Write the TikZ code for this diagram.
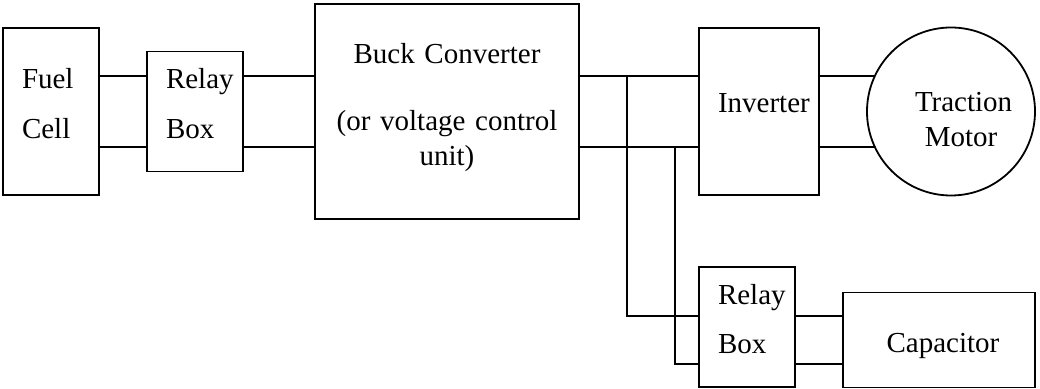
\documentclass[tikz,border=0pt]{standalone}
\usepackage{fontspec}
\setmainfont{Liberation Serif}
\usetikzlibrary{positioning, calc}
\hyphenpenalty=10000

\begin{document}
\begin{tikzpicture}[
            font=\fontsize{14.5}{17.5}\selectfont,
            node distance=24pt,
            box/.style={draw, line width=0.9pt, outer sep=0pt, align=left, inner xsep=9.5pt, inner ysep=0pt, text height=10pt},
            motorcircle/.style={draw, circle, line width=0.9pt, outer sep=0pt, minimum size=84pt, align=center, text width=56pt, text height=10pt, text depth=9.5pt},
            wire/.style={line width=0.9pt}
        ]
            \useasboundingbox (-25.5pt,-138.75pt) rectangle (494.5pt,55.75pt);

            \node[box, text width=29pt, minimum height=83.5pt, text depth=32.5pt] (fuel) at (0,0) {Fuel\\[7.5pt]Cell};
            \node[box, text width=29pt, minimum height=60pt, text depth=33pt, right=24pt of fuel] (relay1) {Relay\\[7.5pt]Box};
            \node[box, align=center, text width=113pt, minimum height=107.5pt, text depth=57.5pt, right=36pt of relay1] (buck) {Buck Converter\\[16pt](or voltage control\\unit)};
            \node[box, text width=41pt, minimum height=83.5pt, text depth=8.5pt, right=60pt of buck] (inv) {Inverter};
            \node[motorcircle, right=24pt of inv] (motor) {\hspace*{10pt}Traction\\\hspace*{10pt}Motor};

            \node[box, text width=29pt, minimum height=60pt, text depth=32pt, below right=36pt and 0pt of inv.south west] (relay2) {Relay\\[7pt]Box};
            \node[box, align=center, text width=77pt, minimum height=47.5pt, text height=13pt, text depth=0pt, right=24pt of relay2, yshift=-6.5pt] (cap) {\hspace*{4pt}Capacitor};

            \coordinate (hi) at (0,17.75pt);
            \coordinate (lo) at (0,-17.75pt);
            \coordinate (tapA) at ($(buck.east)+(24pt,0)$);
            \coordinate (tapB) at ($(buck.east)+(48pt,0)$);
            \coordinate (chi) at ($(cap.west)+(0,12pt)$);
            \coordinate (clo) at ($(cap.west)+(0,-12pt)$);

            \draw[wire] (fuel.east |- hi) -- (relay1.west |- hi);
            \draw[wire] (fuel.east |- lo) -- (relay1.west |- lo);
            \draw[wire] (relay1.east |- hi) -- (buck.west |- hi);
            \draw[wire] (relay1.east |- lo) -- (buck.west |- lo);
            \draw[wire] (buck.east |- hi) -- (inv.west |- hi);
            \draw[wire] (buck.east |- lo) -- (inv.west |- lo);
            \draw[wire] (inv.east |- motor.155) -- (motor.155);
            \draw[wire] (inv.east |- motor.205) -- (motor.205);
            \draw[wire] (tapA |- hi) |- (relay2.west |- chi);
            \draw[wire] (tapB |- lo) |- (relay2.west |- clo);
            \draw[wire] (relay2.east |- chi) -- (chi);
            \draw[wire] (relay2.east |- clo) -- (clo);
        \end{tikzpicture}
\end{document}
